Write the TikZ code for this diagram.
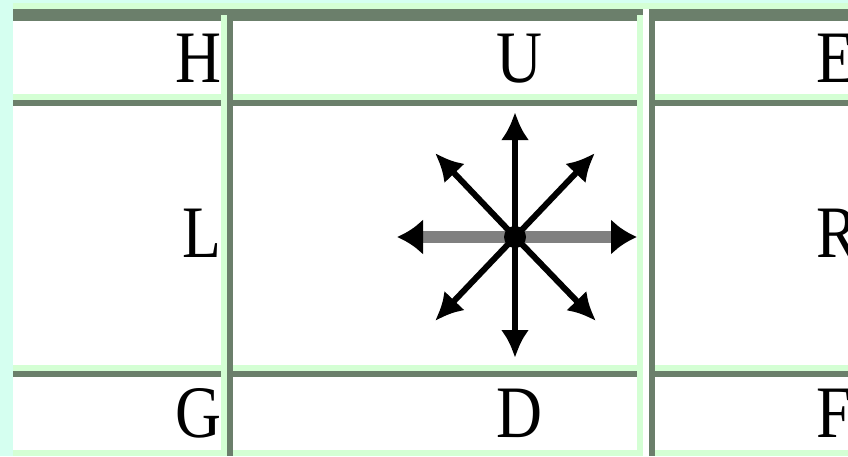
\documentclass[tikz,border=0pt]{standalone}
\usepackage{fontspec}
\setmainfont{Liberation Serif}
\usetikzlibrary{arrows.meta}
\definecolor{bgcyan}{RGB}{213,255,240}
\definecolor{palegreen}{RGB}{212,255,212}
\definecolor{darkgreen}{RGB}{107,127,107}
\definecolor{arrowgray}{RGB}{128,128,128}
\begin{document}
\begin{tikzpicture}[x=1pt,y=-1pt,
  lbl/.style={inner sep=0pt,font=\fontsize{74}{74}\selectfont},
  thinarrow/.style={line width=6pt,black,-{Latex[length=28pt,width=28pt]}},
  thickarrow/.style={line width=12pt,arrowgray,-{Latex[length=26pt,width=36pt,color=black]}}]
\useasboundingbox (0,0) rectangle (848,456);
\clip (0,0) rectangle (848,456);
\fill[palegreen] (0,0) rectangle (848,456);
% cells
\foreach \xa/\xb in {7/227,227/643,649/854}
  \foreach \ya/\yb in {15/100,100/371,371/456} {
    \fill[darkgreen] ({\xa},{\ya}) rectangle ({\xa+6},{\yb});
    \fill[darkgreen] ({\xa},{\ya}) rectangle ({\xb-6},{\ya+6});
    \fill[white] ({\xa+6},{\ya+6}) rectangle ({\xb-6},{\yb-6});
  }
% outer top borders
\fill[darkgreen] (13,9) rectangle (643,15);
\fill[darkgreen] (649,9) rectangle (848,15);
\fill[white] (643,9) rectangle (649,456);
% page background frame
\fill[bgcyan] (0,0) rectangle (13,456);
\fill[bgcyan] (0,0) rectangle (848,3);
% labels
\node[lbl,anchor=base east] (h) at (222,82) {\scalebox{0.86}[1]{H}};
\node[lbl,anchor=base] (u) at (519.5,82) {\scalebox{0.86}[1]{U}};
\node[lbl,anchor=base west] (e) at (816,82) {\scalebox{0.86}[1]{E}};
\node[lbl,anchor=base east] (l) at (222,257) {\scalebox{0.86}[1]{L}};
\node[lbl,anchor=base west] (r) at (816,257) {\scalebox{0.86}[1]{R}};
\node[lbl,anchor=base east] (g) at (222,437) {\scalebox{0.86}[1]{G}};
\node[lbl,anchor=base] (d) at (519.5,437) {\scalebox{0.86}[1]{D}};
\node[lbl,anchor=base west] (f) at (816,437) {\scalebox{0.86}[1]{F}};
% compass star
\coordinate (o) at (515,237);
\coordinate (tu) at (515,112);
\coordinate (td) at (515,358);
\coordinate (tl) at (397,237);
\coordinate (tr) at (637,237);
\coordinate (tul) at (435,153);
\coordinate (tur) at (595,153);
\coordinate (tll) at (435,321);
\coordinate (tlr) at (596,321);
\draw[thickarrow] (o) -- (tl);
\draw[thickarrow] (o) -- (tr);
\draw[thinarrow] (o) -- (tu);
\draw[thinarrow] (o) -- (td);
\draw[thinarrow] (o) -- (tul);
\draw[thinarrow] (o) -- (tur);
\draw[thinarrow] (o) -- (tll);
\draw[thinarrow] (o) -- (tlr);
\node[circle,fill=black,inner sep=0pt,minimum size=22pt] (c) at (o) {};
\end{tikzpicture}
\end{document}
